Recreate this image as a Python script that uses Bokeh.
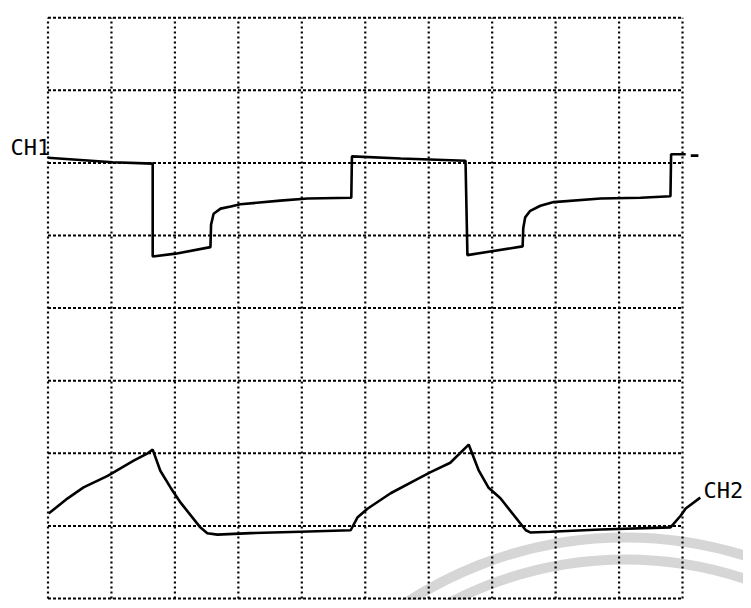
import math
from bokeh.plotting import figure
from bokeh.core.properties import value
from bokeh.embed import file_html
from bokeh.resources import INLINE

# Oscilloscope screen: 10 horizontal x 8 vertical divisions
grid_x = list(range(11))
grid_y = list(range(9))

# CH1 trace (in divisions)
ch1_x = [0.00, 1.02, 1.65, 1.65, 2.01, 2.56, 2.57, 2.61, 2.72, 2.88, 3.03, 3.66, 4.09, 4.78,
         4.79, 5.56, 6.58, 6.61, 6.97, 7.48, 7.49, 7.52, 7.60, 7.76, 7.97, 8.71, 9.34, 9.81,
         9.82, 10.05, float("nan"), 10.13, 10.25]
ch1_y = [6.07, 6.01, 5.99, 4.71, 4.75, 4.84, 5.15, 5.30, 5.37, 5.40, 5.43, 5.48, 5.51, 5.52,
         6.09, 6.06, 6.03, 4.73, 4.78, 4.85, 5.10, 5.25, 5.34, 5.41, 5.46, 5.51, 5.52, 5.54,
         6.12, 6.12, float("nan"), 6.10, 6.10]

# CH2 trace (in divisions)
ch2_x = [0.01, 0.31, 0.56, 0.94, 1.35, 1.57, 1.65, 1.77, 1.93, 2.09, 2.40, 2.51, 2.67, 3.19,
         3.98, 4.77, 4.88, 5.04, 5.40, 5.79, 6.03, 6.34, 6.63, 6.79, 6.94, 7.13, 7.53, 7.60,
         7.92, 8.71, 9.81, 9.97, 10.05, 10.28]
ch2_y = [1.17, 1.38, 1.53, 1.69, 1.90, 2.00, 2.05, 1.76, 1.53, 1.32, 0.98, 0.90, 0.88, 0.90,
         0.92, 0.94, 1.12, 1.24, 1.45, 1.63, 1.74, 1.87, 2.12, 1.76, 1.53, 1.38, 0.94, 0.91,
         0.92, 0.95, 0.98, 1.14, 1.24, 1.39]

labels = ["CH1", "CH2"]
label_x = [-0.59, 10.33]
label_y = [6.21, 1.49]

p = figure(width=743, height=600, output_backend="svg", toolbar_location=None,
           x_range=(-0.7486, 10.961), y_range=(-0.0275, 8.237),
           x_axis_location=None, y_axis_location=None, min_border=0)
p.grid.visible = False
p.outline_line_color = None
p.background_fill_color = "white"
p.border_fill_color = "white"

# faint watermark arcs
p.arc(x=[9.10, 9.10], y=[-4.67, -4.67], radius=[400, 378], radius_units="screen",
      start_angle=0, end_angle=math.pi, line_color="#d6d6d6", line_width=10)

# graticule
p.segment(x0=grid_x, y0=[0] * len(grid_x), x1=grid_x, y1=[8] * len(grid_x),
          line_color="black", line_width=2.2, line_dash="2 3")
p.segment(x0=[0] * len(grid_y), y0=grid_y, x1=[10] * len(grid_y), y1=grid_y,
          line_color="black", line_width=2.0, line_dash="3 2")

# traces
p.line(ch1_x, ch1_y, line_color="black", line_width=2.6)
p.line(ch2_x, ch2_y, line_color="black", line_width=2.6)

p.text(x=label_x, y=label_y, text=labels, text_font=value("DejaVu Sans Mono"),
       text_font_size="22px", text_baseline="middle", text_align="left", text_color="black")

open("out.html", "w").write(file_html(p, INLINE))
